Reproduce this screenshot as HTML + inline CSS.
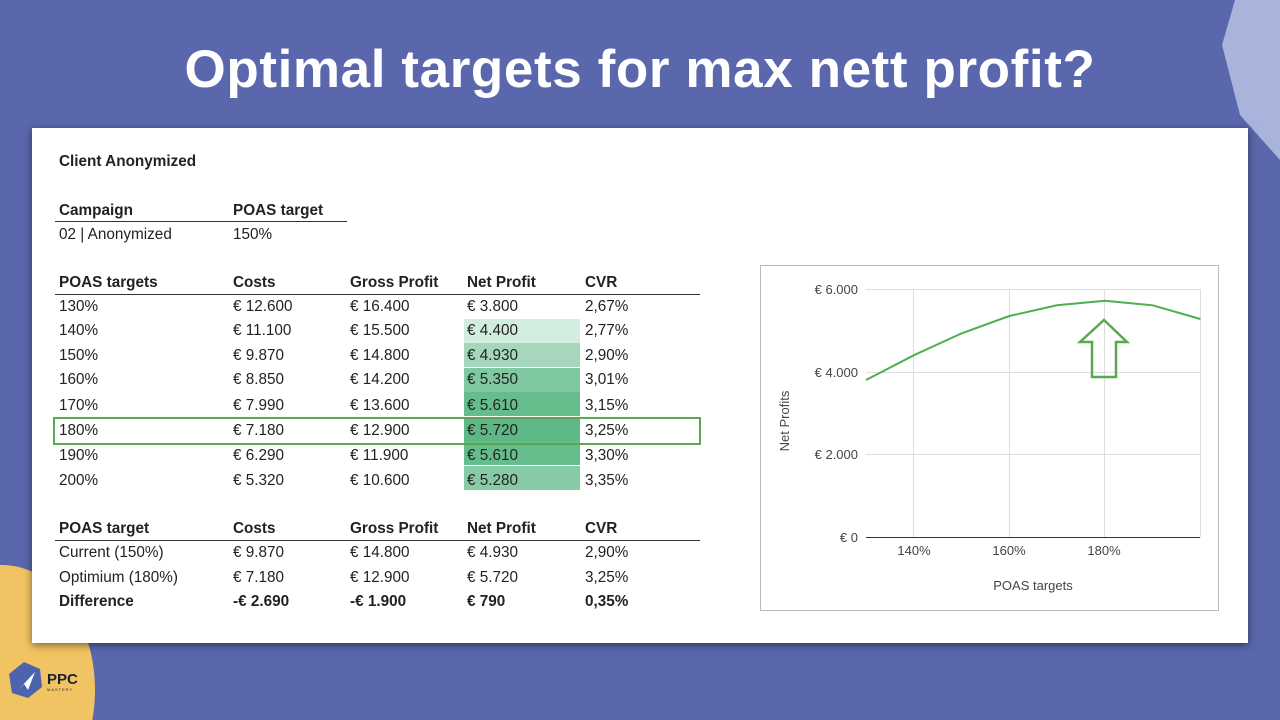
<!DOCTYPE html>
<html style="overflow:hidden;width:1280px;height:720px"><head><meta charset="utf-8"><style>
html,body{margin:0;width:1280px;height:720px;overflow:hidden}
body{background:#5a67ad;position:relative;font-family:"Liberation Sans",Arial,sans-serif}
.t{position:absolute;font-size:15.3px;color:#222;white-space:nowrap}
.b{font-weight:bold}
.line{position:absolute;height:1px;background:#333}
.cell{position:absolute;left:464px;width:116px;height:24px}
</style></head><body>
<div style="position:absolute;left:0;top:0;width:1280px;height:720px;overflow:hidden">
<svg style="position:absolute;left:0;top:0" width="1280" height="720"><ellipse cx="2" cy="690" rx="93" ry="125" fill="#f0c462"/><polygon points="1235,0 1280,0 1280,160 1240,115 1222,45" fill="#a9b4dc"/></svg>
<div style="position:absolute;left:0;top:40px;width:1280px;text-align:center;color:#fff;font-weight:bold;font-size:53px;letter-spacing:0.6px;line-height:60px">Optimal targets for max nett profit?</div>
<div style="position:absolute;left:32px;top:128px;width:1216px;height:515px;background:#fff;box-shadow:0 2px 8px rgba(0,0,0,.5)"></div>
<div class="t b" style="left:59px;top:153px">Client Anonymized</div>
<div class="t b" style="left:59px;top:202px">Campaign</div><div class="t b" style="left:233px;top:202px">POAS target</div>
<div class="line" style="left:55px;top:221px;width:292px"></div>
<div class="t" style="left:59px;top:226px">02 | Anonymized</div><div class="t" style="left:233px;top:226px">150%</div>

<div class="cell" style="top:319px;background:#d3ece0"></div>
<div class="cell" style="top:343px;background:#a6d7bc"></div>
<div class="cell" style="top:368px;background:#80c8a0"></div>
<div class="cell" style="top:392px;background:#66bd8c"></div>
<div class="cell" style="top:417px;background:#5db886"></div>
<div class="cell" style="top:441px;background:#66bd8c"></div>
<div class="cell" style="top:466px;background:#86cba5"></div>

<div class="t b" style="left:59px;top:274px">POAS targets</div><div class="t b" style="left:233px;top:274px">Costs</div><div class="t b" style="left:350px;top:274px">Gross Profit</div><div class="t b" style="left:467px;top:274px">Net Profit</div><div class="t b" style="left:585px;top:274px">CVR</div>
<div class="line" style="left:55px;top:294px;width:645px"></div>

<div class="t" style="left:59px;top:298px">130%</div><div class="t" style="left:233px;top:298px">€ 12.600</div><div class="t" style="left:350px;top:298px">€ 16.400</div><div class="t" style="left:467px;top:298px">€ 3.800</div><div class="t" style="left:585px;top:298px">2,67%</div>
<div class="t" style="left:59px;top:322px">140%</div><div class="t" style="left:233px;top:322px">€ 11.100</div><div class="t" style="left:350px;top:322px">€ 15.500</div><div class="t" style="left:467px;top:322px">€ 4.400</div><div class="t" style="left:585px;top:322px">2,77%</div>
<div class="t" style="left:59px;top:347px">150%</div><div class="t" style="left:233px;top:347px">€ 9.870</div><div class="t" style="left:350px;top:347px">€ 14.800</div><div class="t" style="left:467px;top:347px">€ 4.930</div><div class="t" style="left:585px;top:347px">2,90%</div>
<div class="t" style="left:59px;top:371px">160%</div><div class="t" style="left:233px;top:371px">€ 8.850</div><div class="t" style="left:350px;top:371px">€ 14.200</div><div class="t" style="left:467px;top:371px">€ 5.350</div><div class="t" style="left:585px;top:371px">3,01%</div>
<div class="t" style="left:59px;top:397px">170%</div><div class="t" style="left:233px;top:397px">€ 7.990</div><div class="t" style="left:350px;top:397px">€ 13.600</div><div class="t" style="left:467px;top:397px">€ 5.610</div><div class="t" style="left:585px;top:397px">3,15%</div>
<div class="t" style="left:59px;top:422px">180%</div><div class="t" style="left:233px;top:422px">€ 7.180</div><div class="t" style="left:350px;top:422px">€ 12.900</div><div class="t" style="left:467px;top:422px">€ 5.720</div><div class="t" style="left:585px;top:422px">3,25%</div>
<div class="t" style="left:59px;top:447px">190%</div><div class="t" style="left:233px;top:447px">€ 6.290</div><div class="t" style="left:350px;top:447px">€ 11.900</div><div class="t" style="left:467px;top:447px">€ 5.610</div><div class="t" style="left:585px;top:447px">3,30%</div>
<div class="t" style="left:59px;top:472px">200%</div><div class="t" style="left:233px;top:472px">€ 5.320</div><div class="t" style="left:350px;top:472px">€ 10.600</div><div class="t" style="left:467px;top:472px">€ 5.280</div><div class="t" style="left:585px;top:472px">3,35%</div>
<div style="position:absolute;left:53px;top:417px;width:644px;height:24px;border:2px solid #5aa84f"></div>

<div class="t b" style="left:59px;top:520px">POAS target</div><div class="t b" style="left:233px;top:520px">Costs</div><div class="t b" style="left:350px;top:520px">Gross Profit</div><div class="t b" style="left:467px;top:520px">Net Profit</div><div class="t b" style="left:585px;top:520px">CVR</div>
<div class="line" style="left:55px;top:540px;width:645px"></div>
<div class="t" style="left:59px;top:544px">Current (150%)</div><div class="t" style="left:233px;top:544px">€ 9.870</div><div class="t" style="left:350px;top:544px">€ 14.800</div><div class="t" style="left:467px;top:544px">€ 4.930</div><div class="t" style="left:585px;top:544px">2,90%</div>
<div class="t" style="left:59px;top:569px">Optimium (180%)</div><div class="t" style="left:233px;top:569px">€ 7.180</div><div class="t" style="left:350px;top:569px">€ 12.900</div><div class="t" style="left:467px;top:569px">€ 5.720</div><div class="t" style="left:585px;top:569px">3,25%</div>
<div class="t b" style="left:59px;top:593px">Difference</div><div class="t b" style="left:233px;top:593px">-€ 2.690</div><div class="t b" style="left:350px;top:593px">-€ 1.900</div><div class="t b" style="left:467px;top:593px">€ 790</div><div class="t b" style="left:585px;top:593px">0,35%</div>

<svg style="position:absolute;left:0;top:0" width="1280" height="720" font-family="Liberation Sans,Arial,sans-serif">
<rect x="760.5" y="265.5" width="458" height="345" fill="#fff" stroke="#bbb"/>
<g stroke="#ddd" stroke-width="1">
<line x1="866" y1="289.5" x2="1200" y2="289.5"/><line x1="866" y1="372.5" x2="1200" y2="372.5"/><line x1="866" y1="454.5" x2="1200" y2="454.5"/>
<line x1="913.5" y1="289" x2="913.5" y2="537"/><line x1="1009.5" y1="289" x2="1009.5" y2="537"/><line x1="1104.5" y1="289" x2="1104.5" y2="537"/><line x1="1200.5" y1="289" x2="1200.5" y2="537"/>
</g>
<line x1="866" y1="537.5" x2="1200" y2="537.5" stroke="#333"/>
<g font-size="13" fill="#444" text-anchor="end">
<text x="858" y="294">€ 6.000</text><text x="858" y="377">€ 4.000</text><text x="858" y="459">€ 2.000</text><text x="858" y="542">€ 0</text></g>
<g font-size="13" fill="#444" text-anchor="middle">
<text x="914" y="555">140%</text><text x="1009" y="555">160%</text><text x="1104" y="555">180%</text>
<text x="1033" y="590">POAS targets</text>
<text transform="translate(789,421) rotate(-90)">Net Profits</text></g>
<polyline fill="none" stroke="#4caf50" stroke-width="2" points="866,380 913.7,355.3 961.5,333.4 1009.3,316 1057,305.3 1104.8,300.7 1152.6,305.3 1200.4,319"/>
<polygon points="1104,320 1127,342 1116,342 1116,377 1092,377 1092,342 1080,342" fill="none" stroke="#5aa84f" stroke-width="2.5"/>
</svg>

<svg style="position:absolute;left:6px;top:660px" width="80" height="40">
<polygon points="18,2 34,9 36,27 22,38 6,33 3,14" fill="#4d63ad"/>
<polygon points="12,30 29,12 22,30 18,24" fill="#fff"/>
<text x="41" y="24" font-size="15" font-weight="bold" fill="#1e2230" font-family="Liberation Sans,sans-serif">PPC</text>
<text x="41" y="31" font-size="4" fill="#1e2230" letter-spacing="1" font-family="Liberation Sans,sans-serif">MASTERY</text>
</svg>
</div>
</body></html>
